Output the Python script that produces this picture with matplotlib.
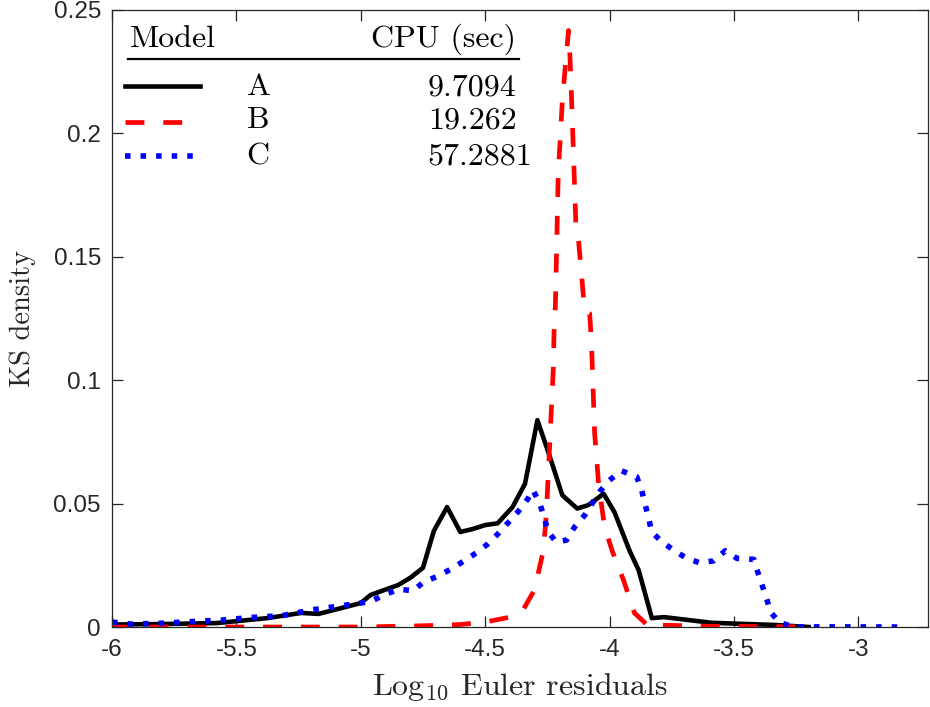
import numpy as np
import matplotlib
matplotlib.use("Agg")
import matplotlib.pyplot as plt

plt.rcParams['mathtext.fontset'] = 'cm'

# KS density curves (x = log10 Euler residual)
a_x = [-6.0, -5.8, -5.577, -5.375, -5.24, -5.17, -5.0, -4.96, -4.85, -4.8, -4.75,
       -4.706, -4.653, -4.60, -4.55, -4.50, -4.45, -4.39, -4.34, -4.29, -4.24,
       -4.19, -4.13, -4.085, -4.024, -3.98, -3.92, -3.883, -3.83, -3.78, -3.59,
       -3.33, -3.2]
a_y = [0.001, 0.0012, 0.0016, 0.0036, 0.0057, 0.0053, 0.0097, 0.013, 0.017, 0.02, 0.024,
       0.039, 0.0486, 0.0385, 0.0397, 0.0413, 0.042, 0.0486, 0.058, 0.0838, 0.069,
       0.0534, 0.048, 0.0494, 0.054, 0.0465, 0.031, 0.023, 0.0036, 0.004, 0.0017,
       0.0008, 0.0]

b_x = [-6.0, -5.5, -5.0, -4.75, -4.6, -4.5, -4.4, -4.35, -4.302, -4.266, -4.254,
       -4.234, -4.226, -4.222, -4.218, -4.212, -4.206, -4.198, -4.19, -4.178, -4.165,
       -4.160, -4.153, -4.135, -4.125, -4.10, -4.08, -4.073, -4.06, -4.044, -4.02,
       -3.99, -3.944, -3.9, -3.84, -3.82, -3.6, -3.4, -3.2]
b_y = [0.0, 0.0, 0.0, 0.0005, 0.001, 0.002, 0.004, 0.0065, 0.015, 0.031, 0.046,
       0.088, 0.105, 0.1255, 0.1296, 0.157, 0.185, 0.198, 0.213, 0.227, 0.2417,
       0.233, 0.215, 0.162, 0.157, 0.128, 0.127, 0.116, 0.0785, 0.058, 0.0405,
       0.031, 0.019, 0.0057, 0.0, 0.0008, 0.0003, 0.0002, 0.0]

c_x = [-6.0, -5.927, -5.806, -5.68, -5.56, -5.437, -5.316, -5.2, -5.08, -4.96,
       -4.907, -4.847, -4.79, -4.746, -4.69, -4.637, -4.585, -4.536, -4.49, -4.45,
       -4.41, -4.368, -4.328, -4.308, -4.28, -4.26, -4.247, -4.214, -4.173, -4.14,
       -4.1, -4.04, -4.0, -3.952, -3.891, -3.871, -3.858, -3.844, -3.831, -3.79,
       -3.743, -3.69, -3.637, -3.582, -3.535, -3.488, -3.42, -3.407, -3.387, -3.367,
       -3.355, -3.315, -3.26, -2.836]
c_y = [0.002, 0.0012, 0.0015, 0.0022, 0.0028, 0.0039, 0.0046, 0.0069, 0.0086, 0.0103,
       0.013, 0.0153, 0.0147, 0.0183, 0.0206, 0.0235, 0.0268, 0.03, 0.0336, 0.0376,
       0.042, 0.0467, 0.052, 0.0555, 0.050, 0.0433, 0.0386, 0.0344, 0.0352, 0.0406,
       0.0453, 0.0548, 0.0595, 0.0633, 0.0609, 0.0555, 0.050, 0.0447, 0.0386, 0.0345,
       0.0312, 0.0278, 0.026, 0.0268, 0.0309, 0.0278, 0.0274, 0.0231, 0.017, 0.011,
       0.0062, 0.0017, 0.0001, 0.0]

models = ['A', 'B', 'C']
cpu_sec = ['9.7094', '19.262', '57.2881']

x_ticks = [-6, -5.5, -5, -4.5, -4, -3.5, -3]
x_ticklabels = ['-6', '-5.5', '-5', '-4.5', '-4', '-3.5', '-3']
y_ticks = [0, 0.05, 0.1, 0.15, 0.2, 0.25]
y_ticklabels = ['0', '0.05', '0.1', '0.15', '0.2', '0.25']

fig = plt.figure(figsize=(9.3, 7.07), dpi=100)
ax = fig.add_axes([112/930, 1-627/707, 816/930, 617/707])

styles = [dict(color='black', linestyle='-', lw=3.3),
          dict(color='red', linestyle=(0, (4, 4)), dash_capstyle='butt', lw=3.4),
          dict(color='blue', linestyle=(0, (1, 1.8)), dash_capstyle='butt', lw=4.0)]
for (xs, ys), st in zip([(a_x, a_y), (b_x, b_y), (c_x, c_y)], styles):
    ax.plot(xs, ys, **st)

ax.set_xlim(-6, -2.72)
ax.set_ylim(0, 0.25)
ax.set_xticks(x_ticks)
ax.set_xticklabels(x_ticklabels, fontfamily='Liberation Sans', fontsize=17.5, color='#262626')
ax.set_yticks(y_ticks)
ax.set_yticklabels(y_ticklabels, fontfamily='Liberation Sans', fontsize=17.5, color='#262626')
ax.tick_params(direction='in', length=8, width=0.9, color='#262626',
               top=True, right=True)
ax.tick_params(axis='x', pad=9)
ax.tick_params(axis='y', pad=8)
for sp in ax.spines.values():
    sp.set_color('#262626')
    sp.set_linewidth(0.9)

ax.set_xlabel(r'Log$_{10}$ Euler residuals', fontfamily='cmr10', fontsize=23, color='#262626')
ax.xaxis.set_label_coords(0.5, -0.072)
ax.set_ylabel('KS density', fontfamily='cmr10', fontsize=20.5, color='#262626')
ax.yaxis.set_label_coords(-0.093, 0.5)

# table-like legend
tr = ax.transAxes
fs = 23
ax.text(0.022, 0.940, 'Model', transform=tr, fontfamily='cmr10', fontsize=fs, va='baseline')
ax.text(0.317, 0.940, 'CPU (sec)', transform=tr, fontfamily='cmr10', fontsize=fs, va='baseline')
ax.plot([0.0196, 0.4988], [0.9206, 0.9206], transform=tr, color='black', lw=1.6, clip_on=False)
row_base = [0.862, 0.808, 0.749]
row_line = [0.8768, 0.8185, 0.7634]
for i, (m, c) in enumerate(zip(models, cpu_sec)):
    ax.plot([0.0159, 0.1078], [row_line[i], row_line[i]], transform=tr, **styles[i])
    ax.text(0.165, row_base[i], m, transform=tr, fontfamily='cmr10', fontsize=fs, va='baseline')
    ax.text(0.387, row_base[i], c, transform=tr, fontfamily='cmr10', fontsize=fs, va='baseline')

fig.savefig('out.png', dpi=100)
